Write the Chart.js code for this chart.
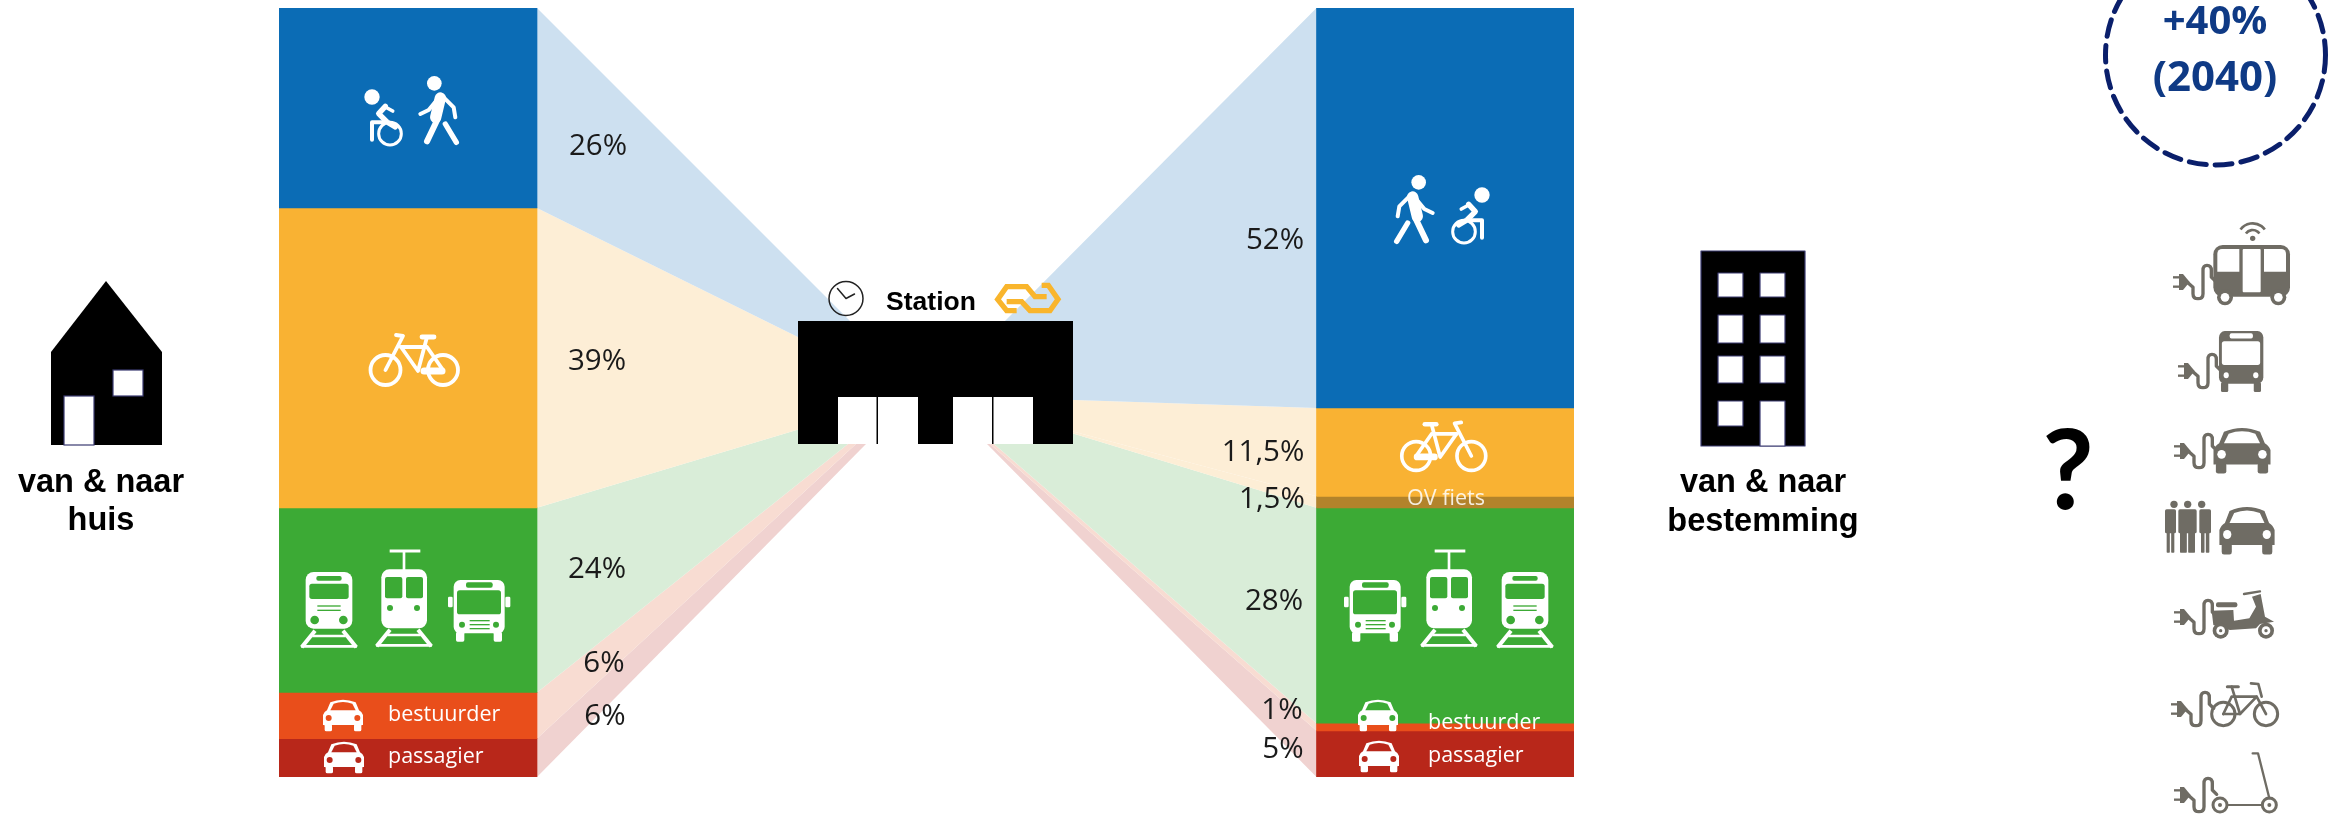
<!DOCTYPE html>
<html>
<head>
<meta charset="utf-8">
<title>van & naar station</title>
<style>
  html, body { margin: 0; padding: 0; background: #fff; }
  canvas { display: block; }
</style>
<script src="https://cdn.jsdelivr.net/npm/chart.js@4"></script>
</head>
<body>
<canvas id="myChart" width="2340" height="814"></canvas>
<script>
// data, share of trips per mode (height of the blocks adds up to 100)
const modes = ['lopen', 'fiets', 'OV fiets', 'ov', 'bestuurder', 'passagier'];
const huisValues = [26, 39, 0, 24, 6, 5];
const bestemmingValues = [52, 11.5, 1.5, 28, 1, 6];
const huisLabels = ['26%', '39%', '24%', '6%', '6%'];
const bestemmingLabels = ['52%', '11,5%', '1,5%', '28%', '1%', '5%'];

// style
const blockColors = ['#0b6cb5', '#f9b233', '#b2832b', '#3caa35', '#e94e1b', '#b8271a'];
const ribbonColors = ['#cde0f0', '#fdeed6', '#fdeed6', '#d9edd8', '#f8dcd2', '#f0d2d0'];
const GREY = '#6f6c64';
const HALO = '#3a3a70';

// layout in page pixels
const AREA = { left: 279, right: 1574, top: 8, bottom: 777 };
const HUIS_X = 408, BEST_X = 1445.5, BAR_W = 258;
const toShare = py => (py - AREA.top) / (AREA.bottom - AREA.top) * 100;

// where the bands end behind the station, one point per block boundary
const huisEnds = [[860, 331], [810, 343], [810, 426], [810, 426], [848, 444], [856, 444], [866, 444]];
const bestEnds = [[995, 331], [1060, 399.6], [1060, 428], [1060, 429.6], [994, 444], [990, 444], [987, 444]];

function ribbons(values, barEdge, ends) {
  let out = [];
  let sum = 0;
  values.forEach(function (v, i) {
    if (v > 0) {
      out.push({
        type: 'line',
        yAxisID: 'yBand',
        order: 5,
        fill: 'shape',
        backgroundColor: ribbonColors[i],
        borderWidth: 0,
        pointRadius: 0,
        tension: 0,
        data: [
          { x: barEdge, y: sum },
          { x: ends[i][0], y: toShare(ends[i][1]) },
          { x: ends[i + 1][0], y: toShare(ends[i + 1][1]) },
          { x: barEdge, y: sum + v }
        ]
      });
    }
    sum += v;
  });
  return out;
}

const blockSets = modes.map(function (name, i) {
  const points = [];
  if (huisValues[i] > 0) points.push({ x: HUIS_X, y: huisValues[i] });
  points.push({ x: BEST_X, y: bestemmingValues[i] });
  return {
    type: 'bar',
    label: name,
    order: 1,
    data: points,
    backgroundColor: blockColors[i],
    barThickness: BAR_W,
    borderWidth: 0
  };
});

// small drawing helpers for the pictograms
function line(ctx, pts, w, color, cap) {
  ctx.beginPath();
  ctx.moveTo(pts[0][0], pts[0][1]);
  for (let i = 1; i < pts.length; i++) ctx.lineTo(pts[i][0], pts[i][1]);
  ctx.lineWidth = w;
  ctx.lineCap = cap || 'round';
  ctx.lineJoin = 'round';
  ctx.strokeStyle = color;
  ctx.stroke();
}
function disc(ctx, x, y, r, color) {
  ctx.beginPath();
  ctx.arc(x, y, r, 0, Math.PI * 2);
  ctx.fillStyle = color;
  ctx.fill();
}
function ring(ctx, x, y, r, w, color) {
  ctx.beginPath();
  ctx.arc(x, y, r, 0, Math.PI * 2);
  ctx.lineWidth = w;
  ctx.strokeStyle = color;
  ctx.stroke();
}
function box(ctx, x, y, w, h, r, color) {
  ctx.beginPath();
  ctx.roundRect(x, y, w, h, r);
  ctx.fillStyle = color;
  ctx.fill();
}
function pane(ctx, x, y, w, h) {
  ctx.fillStyle = '#fff';
  ctx.fillRect(x, y, w, h);
  ctx.strokeStyle = HALO;
  ctx.lineWidth = 1.2;
  ctx.strokeRect(x, y, w, h);
}
function place(ctx, x, y, sx, sy, draw) {
  ctx.save();
  ctx.translate(x, y);
  ctx.scale(sx, sy);
  draw();
  ctx.restore();
}

function walker(ctx, c) {
  disc(ctx, -8, -62, 22, c);
  line(ctx, [[10, -18], [-4, 40]], 34, c);
  line(ctx, [[2, 45], [-30, 112]], 18, c);
  line(ctx, [[25, 60], [58, 115]], 16, c);
  line(ctx, [[-2, -10], [-25, 18], [-50, 30]], 12, c);
  line(ctx, [[20, -20], [50, 10], [55, 40]], 12, c);
}
function wheelchair(ctx, c) {
  disc(ctx, 0, 0, 23, c);
  line(ctx, [[40, 30], [62, 42]], 11, c);
  line(ctx, [[40, 28], [20, 50], [45, 75], [70, 90]], 16, c);
  line(ctx, [[38, 76], [0, 76], [0, 128]], 12, c);
  ring(ctx, 54, 110, 34, 9, c);
}
function bicycle(ctx, c) {
  const w = 3.8;
  ring(ctx, -28.5, 0, 15, w, c);
  ring(ctx, 29, 0, 15, w, c);
  line(ctx, [[-28.5, 0], [-11, -34], [-18, -35]], w, c);
  line(ctx, [[-13, -23], [13, -23], [29, 0]], w, c);
  line(ctx, [[-13, -23], [4, 1], [13, -33]], w, c);
  line(ctx, [[8, -33], [20, -33]], w + 1, c);
  line(ctx, [[10, 1], [28, 1]], 7, c);
}
function train(ctx, bg) {
  box(ctx, -70, 0, 140, 170, 24, '#fff');
  box(ctx, -38, 12, 76, 14, 6, bg);
  box(ctx, -59, 35, 118, 46, 8, bg);
  line(ctx, [[-35, 102], [35, 102]], 4, bg, 'butt');
  line(ctx, [[-35, 115], [35, 115]], 4, bg, 'butt');
  disc(ctx, -43, 144, 13, bg);
  disc(ctx, 43, 144, 13, bg);
  rails(ctx, 176);
}
function rails(ctx, y) {
  line(ctx, [[-42, y], [-82, y + 50]], 12, '#fff', 'butt');
  line(ctx, [[42, y], [82, y + 50]], 12, '#fff', 'butt');
  line(ctx, [[-50, y + 16], [50, y + 16]], 7, '#fff', 'butt');
  line(ctx, [[-84, y + 47], [84, y + 47]], 8, '#fff', 'butt');
}
function tram(ctx, bg) {
  line(ctx, [[-43, 0], [49, 0]], 9, '#fff', 'butt');
  line(ctx, [[0, 0], [0, 60]], 8, '#fff', 'butt');
  box(ctx, -68, 55, 137, 177, 24, '#fff');
  box(ctx, -57, 78, 52, 64, 6, bg);
  box(ctx, 6, 78, 51, 64, 6, bg);
  disc(ctx, -42, 171, 9, bg);
  disc(ctx, 39, 171, 9, bg);
  rails(ctx, 236);
}
function bus(ctx, fg, bg, full) {
  box(ctx, -76, 0, 153, 160, 20, fg);
  box(ctx, -66, 31, 132, 72, 8, bg);
  box(ctx, -39, 7, 80, 16, 6, bg);
  disc(ctx, -51, 134, 9, bg);
  disc(ctx, 51, 134, 9, bg);
  box(ctx, -69, 155, 25, 30, 5, fg);
  box(ctx, 44, 155, 25, 30, 5, fg);
  if (full) {
    [122, 134, 146].forEach(function (y) {
      line(ctx, [[-28, y], [32, y]], 4, bg, 'butt');
    });
    box(ctx, -93, 50, 14, 32, 4, fg);
    box(ctx, 79, 50, 15, 32, 4, fg);
  }
}
function car(ctx, fg, bg) {
  box(ctx, -55, 74, 22, 23, 5, fg);
  box(ctx, 33, 74, 22, 23, 5, fg);
  ctx.beginPath();
  ctx.moveTo(-60, 78);
  ctx.lineTo(-60, 48);
  ctx.quadraticCurveTo(-56, 38, -48, 34);
  ctx.lineTo(-38, 10);
  ctx.quadraticCurveTo(0, -6, 38, 10);
  ctx.lineTo(48, 34);
  ctx.quadraticCurveTo(56, 38, 60, 48);
  ctx.lineTo(60, 78);
  ctx.closePath();
  ctx.fillStyle = fg;
  ctx.fill();
  ctx.beginPath();
  ctx.moveTo(-38, 34);
  ctx.lineTo(-28, 14);
  ctx.quadraticCurveTo(0, 4, 28, 14);
  ctx.lineTo(38, 34);
  ctx.closePath();
  ctx.fillStyle = bg;
  ctx.fill();
  disc(ctx, -43, 57, 9, bg);
  disc(ctx, 43, 57, 9, bg);
}
function plug(ctx) {
  line(ctx, [[0, -14], [20, -14]], 7, GREY, 'butt');
  line(ctx, [[0, 14], [20, 14]], 7, GREY, 'butt');
  ctx.beginPath();
  ctx.moveTo(18, -24);
  ctx.lineTo(30, -24);
  ctx.lineTo(50, 0);
  ctx.lineTo(30, 24);
  ctx.lineTo(18, 24);
  ctx.closePath();
  ctx.fillStyle = GREY;
  ctx.fill();
  ctx.beginPath();
  ctx.moveTo(42, 0);
  ctx.lineTo(60, 16);
  ctx.lineTo(60, 35);
  ctx.quadraticCurveTo(60, 50, 75, 50);
  ctx.quadraticCurveTo(90, 50, 90, 35);
  ctx.lineTo(90, -35);
  ctx.quadraticCurveTo(90, -50, 102, -50);
  ctx.quadraticCurveTo(115, -50, 115, -35);
  ctx.lineTo(115, -15);
  ctx.lineTo(128, -2);
  ctx.lineWidth = 10;
  ctx.lineJoin = 'round';
  ctx.lineCap = 'round';
  ctx.strokeStyle = GREY;
  ctx.stroke();
}

const schematic = {
  id: 'schematic',
  afterDraw: function (chart) {
    const ctx = chart.ctx;
    const text = function (str, x, y, font, color, align, base) {
      ctx.font = font;
      ctx.fillStyle = color;
      ctx.textAlign = align || 'center';
      ctx.textBaseline = base || 'middle';
      ctx.fillText(str, x, y);
    };

    // house
    ctx.beginPath();
    ctx.moveTo(106, 281);
    ctx.lineTo(162, 352);
    ctx.lineTo(162, 445);
    ctx.lineTo(51, 445);
    ctx.lineTo(51, 352);
    ctx.closePath();
    ctx.fillStyle = '#000';
    ctx.fill();
    pane(ctx, 64, 396, 30, 49);
    pane(ctx, 113, 370, 30, 26);
    const head = 'bold 32.5px "Liberation Sans"';
    text('van & naar', 101, 483, head, '#000');
    text('huis', 101, 521, head, '#000');

    // station
    ctx.fillStyle = '#000';
    ctx.fillRect(798, 321, 275, 123);
    ctx.fillStyle = '#fff';
    ctx.fillRect(838, 397, 80, 47);
    ctx.fillRect(953, 397, 80, 47);
    ctx.fillStyle = '#000';
    ctx.fillRect(876.5, 397, 1.5, 47);
    ctx.fillRect(992, 397, 1.5, 47);
    ring(ctx, 846, 298.5, 17, 1.5, '#222');
    line(ctx, [[837.5, 288.5], [846, 298.5], [854.5, 294]], 1.5, '#222');
    text('Station', 931, 303, 'bold 26.5px "Liberation Sans"', '#000');
    ctx.save();
    ctx.translate(820, 270);
    ctx.scale(1 / 3, 1 / 3);
    ctx.lineJoin = 'miter';
    [[[590, 122], [560, 122], [533, 88], [560, 50], [620, 50], [645, 80], [680, 80]],
     [[665, 46], [685, 46], [714, 88], [690, 122], [630, 122], [605, 95], [560, 95]]].forEach(function (p) {
      ctx.beginPath();
      p.forEach(function (q, i) { if (i === 0) ctx.moveTo(q[0], q[1]); else ctx.lineTo(q[0], q[1]); });
      ctx.lineWidth = 16;
      ctx.lineCap = 'butt';
      ctx.strokeStyle = '#f9b52c';
      ctx.stroke();
    });
    ctx.restore();

    // building
    ctx.fillStyle = '#000';
    ctx.fillRect(1701, 251, 104, 195);
    ctx.strokeStyle = HALO;
    ctx.lineWidth = 1.2;
    ctx.strokeRect(1701, 251, 104, 195);
    [[273, 24], [315, 28], [356, 27], [401, 25]].forEach(function (row, i) {
      pane(ctx, 1718, row[0], 25, row[1]);
      if (i < 3) pane(ctx, 1760, row[0], 25, row[1]);
    });
    pane(ctx, 1760, 401, 25, 45);
    text('van & naar', 1763, 483, head, '#000');
    text('bestemming', 1763, 522, head, '#000');

    // percentages
    const pct = '29.5px "Open Sans"';
    const huisPos = [[598, 147], [597, 362], [597, 570], [604, 664], [605, 717]];
    const bestPos = [[1275, 241], [1263, 453], [1272, 500], [1274, 602], [1282, 711], [1283, 750]];
    huisLabels.forEach(function (s, i) { text(s, huisPos[i][0], huisPos[i][1], pct, '#1a1a1a'); });
    bestemmingLabels.forEach(function (s, i) { text(s, bestPos[i][0], bestPos[i][1], pct, '#1a1a1a'); });

    // labels inside the blocks
    const small = '21.5px "Open Sans"';
    text('bestuurder', 388, 715, small, '#fff', 'left');
    text('passagier', 388, 757, small, '#fff', 'left');
    text('bestuurder', 1428, 723, small, '#fff', 'left');
    text('passagier', 1428, 756, small, '#fff', 'left');
    text('OV fiets', 1446, 499, small, 'rgba(255,255,255,0.85)');

    // pictograms in the blocks
    const S = 1 / 3;
    place(ctx, 437, 104, S, S, function () { walker(ctx, '#fff'); });
    place(ctx, 372, 97, S, S, function () { wheelchair(ctx, '#fff'); });
    place(ctx, 1416, 203, -S, S, function () { walker(ctx, '#fff'); });
    place(ctx, 1482, 195, -S, S, function () { wheelchair(ctx, '#fff'); });
    place(ctx, 414, 370, 1, 1, function () { bicycle(ctx, '#fff'); });
    place(ctx, 1444, 456, -0.96, 0.96, function () { bicycle(ctx, '#fff'); });
    const green = blockColors[3];
    place(ctx, 329, 572, S, S, function () { train(ctx, green); });
    place(ctx, 404, 551, S, S, function () { tram(ctx, green); });
    place(ctx, 479, 580, S, S, function () { bus(ctx, '#fff', green, true); });
    place(ctx, 1375, 580, S, S, function () { bus(ctx, '#fff', green, true); });
    place(ctx, 1449, 551, S, S, function () { tram(ctx, green); });
    place(ctx, 1525, 572, S, S, function () { train(ctx, green); });
    place(ctx, 343, 699, S, S, function () { car(ctx, '#fff', blockColors[4]); });
    place(ctx, 344, 741, S, S, function () { car(ctx, '#fff', blockColors[5]); });
    place(ctx, 1378, 699, S, S, function () { car(ctx, '#fff', green); });
    place(ctx, 1379, 740, S, S, function () { car(ctx, '#fff', blockColors[5]); });

    // +40% ring
    ctx.save();
    ctx.setLineDash([17, 9]);
    ctx.beginPath();
    ctx.arc(2215.5, 55, 110, 0, Math.PI * 2);
    ctx.lineWidth = 5;
    ctx.strokeStyle = '#0a1f6b';
    ctx.stroke();
    ctx.restore();
    text('+40%', 2215, 23, 'bold 40px "Open Sans"', '#0f3a85');
    text('(2040)', 2215, 79, 'bold 42px "Open Sans"', '#0f3a85');
    text('?', 2068, 509, 'bold 112px Lato', '#000', 'center', 'alphabetic');

    // future vehicles, grey column
    place(ctx, 2173, 282, S, S, function () { plug(ctx); });
    ctx.save();
    ctx.translate(2150, 210);
    ctx.scale(S, S);
    box(ctx, 190, 105, 230, 155, 28, GREY);
    box(ctx, 202, 117, 66, 68, [14, 0, 0, 0], '#fff');
    box(ctx, 342, 117, 66, 68, [0, 14, 0, 0], '#fff');
    box(ctx, 278, 117, 54, 130, 3, '#fff');
    [225, 385].forEach(function (x) {
      disc(ctx, x, 262, 24, GREY);
      disc(ctx, x, 262, 13, '#fff');
    });
    disc(ctx, 308, 85, 8, GREY);
    ctx.strokeStyle = GREY;
    ctx.lineWidth = 8;
    ctx.lineCap = 'butt';
    ctx.beginPath();
    ctx.arc(308, 85, 25, Math.PI * 1.2, Math.PI * 1.8);
    ctx.stroke();
    ctx.beginPath();
    ctx.arc(308, 85, 45, Math.PI * 1.2, Math.PI * 1.8);
    ctx.stroke();
    ctx.restore();

    place(ctx, 2178, 371, S, S, function () { plug(ctx); });
    place(ctx, 2241, 331, 0.29, 0.33, function () { bus(ctx, GREY, '#fff', false); });

    place(ctx, 2174, 451, S, S, function () { plug(ctx); });
    place(ctx, 2242, 427, 0.475, 0.48, function () { car(ctx, GREY, '#fff'); });

    // three people next to the shared car
    ctx.save();
    ctx.translate(2150, 490);
    ctx.scale(S, S);
    [[72, 45, 33], [113, 85, 55], [155, 148, 35]].forEach(function (p) {
      disc(ctx, p[0], 43, 11, GREY);
      box(ctx, p[1], 58, p[2], 72, 5, GREY);
      box(ctx, p[1] + 5, 125, p[2] / 2 - 7, 63, 2, GREY);
      box(ctx, p[1] + p[2] / 2 + 2, 125, p[2] / 2 - 7, 63, 2, GREY);
    });
    ctx.restore();
    place(ctx, 2247, 506, 0.46, 0.5, function () { car(ctx, GREY, '#fff'); });

    // moped
    place(ctx, 2174, 617, S, S, function () { plug(ctx); });
    ctx.save();
    ctx.translate(2150, 490);
    ctx.scale(S, S);
    box(ctx, 198, 337, 64, 15, 6, GREY);
    ctx.beginPath();
    [[185, 362], [250, 360], [252, 392], [298, 385], [318, 350], [306, 320], [332, 312], [345, 380], [372, 395], [330, 402], [318, 415], [240, 420], [190, 405]].forEach(function (p, i) {
      if (i === 0) ctx.moveTo(p[0], p[1]); else ctx.lineTo(p[0], p[1]);
    });
    ctx.closePath();
    ctx.fillStyle = GREY;
    ctx.fill();
    line(ctx, [[282, 312], [330, 304]], 7, GREY);
    [212, 348].forEach(function (x) {
      disc(ctx, x, 422, 24, GREY);
      disc(ctx, x, 422, 13, '#fff');
      disc(ctx, x, 422, 5, GREY);
    });
    ctx.restore();

    // e-bike
    place(ctx, 2171, 709, S, S, function () { plug(ctx); });
    ctx.save();
    ctx.translate(2150, 490);
    ctx.scale(S, S);
    ring(ctx, 220, 672, 35, 9, GREY);
    ring(ctx, 348, 672, 35, 9, GREY);
    line(ctx, [[220, 672], [245, 620], [320, 620], [348, 672]], 8, GREY);
    line(ctx, [[220, 672], [270, 672], [320, 620]], 8, GREY);
    line(ctx, [[270, 672], [245, 590]], 8, GREY);
    line(ctx, [[232, 590], [265, 590]], 9, GREY);
    line(ctx, [[303, 580], [325, 582], [335, 620]], 8, GREY);
    ctx.restore();

    // e-step
    place(ctx, 2174, 795, S, S, function () { plug(ctx); });
    ctx.save();
    ctx.translate(2150, 490);
    ctx.scale(S, S);
    ring(ctx, 210, 945, 21, 9, GREY);
    ring(ctx, 358, 945, 21, 9, GREY);
    disc(ctx, 210, 945, 6, GREY);
    disc(ctx, 358, 945, 6, GREY);
    line(ctx, [[232, 945], [336, 945]], 6, GREY);
    line(ctx, [[308, 790], [324, 790], [358, 925]], 7, GREY);
    ctx.restore();
  }
};

new Chart(document.getElementById('myChart'), {
  data: {
    datasets: blockSets
      .concat(ribbons(huisValues, HUIS_X + BAR_W / 2, huisEnds))
      .concat(ribbons(bestemmingValues, BEST_X - BAR_W / 2, bestEnds))
  },
  options: {
    responsive: false,
    animation: false,
    layout: {
      padding: { left: AREA.left, right: 2340 - AREA.right, top: AREA.top, bottom: 814 - AREA.bottom }
    },
    plugins: { legend: { display: false }, tooltip: { enabled: false } },
    scales: {
      x: { type: 'linear', display: false, min: AREA.left, max: AREA.right, stacked: true, offset: false },
      y: { display: false, min: 0, max: 100, reverse: true, stacked: true },
      yBand: { display: false, min: 0, max: 100, reverse: true }
    }
  },
  plugins: [schematic]
});
</script>
</body>
</html>
